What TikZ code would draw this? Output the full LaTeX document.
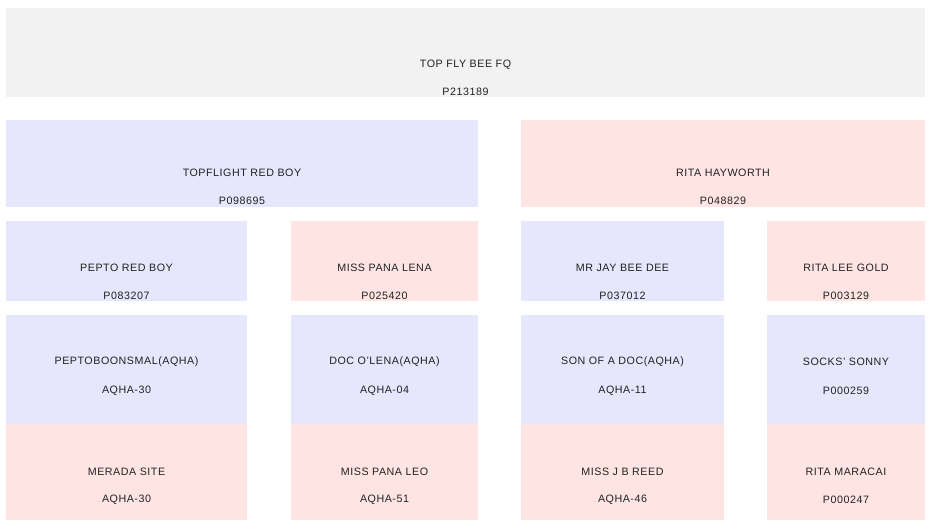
\documentclass[tikz,border=0pt]{standalone}
\usepackage{fontspec}
\setmainfont[LetterSpace=5]{Liberation Sans}
\usetikzlibrary{positioning}
\definecolor{gen0}{HTML}{F2F2F2}
\definecolor{sire}{HTML}{E6E6FC}
\definecolor{dam}{HTML}{FFE4E4}
\definecolor{ink}{HTML}{222222}
\tikzset{box/.style = {rectangle, draw=none, inner sep = 0, anchor = north west}}
\tikzset{lbl/.style = {text = ink, inner sep = 0, yshift = -1.5pt, font = \fontsize{10.7}{12}\selectfont}}

\begin{document}
\begin{tikzpicture}[x=1pt, y=-1pt]
    \useasboundingbox (0,0) rectangle (934,530);
    % generation 0
    \node [box, fill=gen0, minimum width=919, minimum height=89] (tfb) at (6,8) {};
    \node [lbl] (tfbN) at (465.5,63) {TOP FLY BEE FQ};
    \node [lbl] (tfbI) at (465.5,90) {P213189};
    % generation 1
    \node [box, fill=sire, minimum width=472, minimum height=87] (trb) at (6,120) {};
    \node [lbl] (trbN) at (242,171) {TOPFLIGHT RED BOY};
    \node [lbl] (trbI) at (242,199) {P098695};
    \node [box, fill=dam, minimum width=404, minimum height=87] (rh) at (521,120) {};
    \node [lbl] (rhN) at (723,171) {RITA HAYWORTH};
    \node [lbl] (rhI) at (723,199) {P048829};
    % generation 2
    \node [box, fill=sire, minimum width=241, minimum height=80] (prb) at (6,221) {};
    \node [lbl] (prbN) at (126.5,266) {PEPTO RED BOY};
    \node [lbl] (prbI) at (126.5,294) {P083207};
    \node [box, fill=dam, minimum width=187, minimum height=80] (mpl) at (291,221) {};
    \node [lbl] (mplN) at (384.5,266) {MISS PANA LENA};
    \node [lbl] (mplI) at (384.5,294) {P025420};
    \node [box, fill=sire, minimum width=203, minimum height=80] (mjb) at (521,221) {};
    \node [lbl] (mjbN) at (622.5,266) {MR JAY BEE DEE};
    \node [lbl] (mjbI) at (622.5,294) {P037012};
    \node [box, fill=dam, minimum width=158, minimum height=80] (rlg) at (767,221) {};
    \node [lbl] (rlgN) at (846,266) {RITA LEE GOLD};
    \node [lbl] (rlgI) at (846,294) {P003129};
    % generation 3, sires
    \node [box, fill=sire, minimum width=241, minimum height=109] (pbs) at (6,315) {};
    \node [lbl] (pbsN) at (126.5,360) {PEPTOBOONSMAL(AQHA)};
    \node [lbl] (pbsI) at (126.5,389) {AQHA-30};
    \node [box, fill=sire, minimum width=187, minimum height=109] (dol) at (291,315) {};
    \node [lbl] (dolN) at (384.5,360) {DOC O'LENA(AQHA)};
    \node [lbl] (dolI) at (384.5,389) {AQHA-04};
    \node [box, fill=sire, minimum width=203, minimum height=109] (sod) at (521,315) {};
    \node [lbl] (sodN) at (622.5,360) {SON OF A DOC(AQHA)};
    \node [lbl] (sodI) at (622.5,389) {AQHA-11};
    \node [box, fill=sire, minimum width=158, minimum height=109] (sso) at (767,315) {};
    \node [lbl] (ssoN) at (846,360) {SOCKS' SONNY};
    \node [lbl] (ssoI) at (846,389) {P000259};
    % generation 3, dams
    \node [box, fill=dam, minimum width=241, minimum height=96] (mrs) at (6,424) {};
    \node [lbl] (mrsN) at (126.5,470) {MERADA SITE};
    \node [lbl] (mrsI) at (126.5,498) {AQHA-30};
    \node [box, fill=dam, minimum width=187, minimum height=96] (mpo) at (291,424) {};
    \node [lbl] (mpoN) at (384.5,470) {MISS PANA LEO};
    \node [lbl] (mpoI) at (384.5,498) {AQHA-51};
    \node [box, fill=dam, minimum width=203, minimum height=96] (mjr) at (521,424) {};
    \node [lbl] (mjrN) at (622.5,470) {MISS J B REED};
    \node [lbl] (mjrI) at (622.5,498) {AQHA-46};
    \node [box, fill=dam, minimum width=158, minimum height=96] (rma) at (767,424) {};
    \node [lbl] (rmaN) at (846,470) {RITA MARACAI};
    \node [lbl] (rmaI) at (846,498) {P000247};
\end{tikzpicture}
\end{document}
